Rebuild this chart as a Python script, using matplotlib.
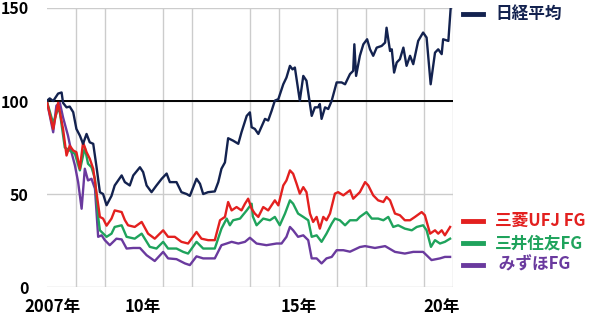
import matplotlib
matplotlib.use("Agg")
import matplotlib.pyplot as plt
from matplotlib.lines import Line2D

plt.rcParams['font.family'] = ['Noto Sans CJK JP', 'DejaVu Sans']

# 日経平均 (2007年初=100)
nikkei_t = [2007.00, 2007.10, 2007.22, 2007.39, 2007.51, 2007.56, 2007.68, 2007.79, 2007.91,
            2008.02, 2008.14, 2008.25, 2008.37, 2008.48, 2008.60, 2008.71, 2008.83, 2008.94,
            2009.06, 2009.23, 2009.34, 2009.58, 2009.69, 2009.86, 2009.98, 2010.21, 2010.32,
            2010.44, 2010.61, 2010.78, 2010.96, 2011.13, 2011.24, 2011.47, 2011.64, 2011.82,
            2011.93, 2012.16, 2012.28, 2012.39, 2012.56, 2012.79, 2012.91, 2013.02, 2013.14,
            2013.25, 2013.42, 2013.60, 2013.71, 2013.89, 2014.00, 2014.06, 2014.17, 2014.29,
            2014.52, 2014.63, 2014.75, 2014.86, 2014.98, 2015.15, 2015.26, 2015.38, 2015.47,
            2015.55, 2015.72, 2015.84, 2015.95, 2016.13, 2016.24, 2016.35, 2016.41, 2016.47,
            2016.59, 2016.70, 2016.82, 2016.99, 2017.16, 2017.28, 2017.45, 2017.56, 2017.60,
            2017.66, 2017.79, 2017.91, 2018.04, 2018.14, 2018.25, 2018.37, 2018.54, 2018.66,
            2018.71, 2018.83, 2018.89, 2018.97, 2019.06, 2019.17, 2019.29, 2019.40, 2019.52,
            2019.63, 2019.80, 2019.97, 2020.09, 2020.23, 2020.38, 2020.49, 2020.61, 2020.66,
            2020.84, 2020.92]
nikkei = [100, 101.4, 100, 104, 104.6, 99, 96.6, 97, 94,
          85, 81.4, 77, 82.3, 77.8, 77, 65, 51, 50,
          44, 49, 54.6, 60, 56.4, 54.6, 60, 64.4, 61.8,
          54.6, 51, 54.6, 58.2, 61, 56.4, 56.4, 51, 50,
          49, 58.2, 55.5, 50, 51, 51.4, 56.4, 63.6, 67,
          80, 78.7, 77, 83.2, 92, 93.9, 85.9, 85, 82.3,
          90.4, 89.5, 94.8, 100.2, 101, 109, 112.6, 118.9, 117,
          118, 100.2, 113.5, 110.9, 92, 96.6, 96.6, 98.4, 90.4,
          96.6, 95.7, 100.2, 110, 110, 109, 114.5, 116.2, 130.5,
          113.5, 124.3, 130.5, 133.2, 127.8, 124.3, 128.7, 129.6, 131.4,
          139.4, 126.9, 127.8, 115.3, 120.7, 122.5, 128.7, 118.9, 124.3,
          119.8, 132.3, 136.8, 134.1, 109, 126, 127.8, 125.2, 133.2,
          132.3, 150]

# 三菱UFJ FG
mufg_t = [2007.00, 2007.22, 2007.39, 2007.56, 2007.68, 2007.79, 2007.91, 2008.02, 2008.14,
          2008.25, 2008.37, 2008.48, 2008.60, 2008.71, 2008.83, 2008.94, 2009.06, 2009.23,
          2009.34, 2009.58, 2009.69, 2009.80, 2010.03, 2010.27, 2010.49, 2010.72, 2011.01,
          2011.18, 2011.41, 2011.64, 2011.87, 2012.16, 2012.33, 2012.56, 2012.79, 2012.97,
          2013.14, 2013.25, 2013.37, 2013.54, 2013.71, 2013.83, 2013.94, 2014.06, 2014.17,
          2014.29, 2014.46, 2014.63, 2014.86, 2014.98, 2015.15, 2015.26, 2015.38, 2015.49,
          2015.61, 2015.72, 2015.84, 2015.95, 2016.07, 2016.18, 2016.30, 2016.41, 2016.53,
          2016.64, 2016.76, 2016.93, 2017.04, 2017.22, 2017.45, 2017.56, 2017.79, 2017.97,
          2018.08, 2018.25, 2018.42, 2018.60, 2018.71, 2018.83, 2019.00, 2019.17, 2019.34,
          2019.52, 2019.69, 2019.92, 2020.03, 2020.21, 2020.38, 2020.49, 2020.61, 2020.72,
          2020.90]
mufg = [100, 85, 99, 85, 70.7, 76, 73.4, 72.5, 63.6,
        77.8, 72.5, 69, 63.6, 51, 37.7, 36.8, 33, 36.8,
        41.2, 40.3, 36, 33.2, 32.3, 35, 28.7, 26, 30.5,
        27, 27, 24.3, 23.4, 29.6, 26, 25.2, 25.2, 35.9,
        37.7, 45.7, 41.2, 43, 41.2, 44.8, 47.5, 42.1, 39.5,
        37.7, 43, 41.2, 46.6, 43.9, 54.6, 57.3, 62.7, 60.9,
        55.5, 50.2, 53.7, 51, 39.5, 35, 37.7, 31.4, 37.7,
        35.9, 39.5, 50.2, 51, 49.3, 52, 47.5, 51, 56.4,
        54.6, 49.3, 46.6, 45.7, 48.4, 46.6, 39.5, 38.6, 35.9,
        35.9, 37.7, 40.3, 38.6, 28.7, 30.5, 28.7, 30.5, 27.8,
        32.3]

# 三井住友FG
smfg_t = [2007.00, 2007.22, 2007.39, 2007.45, 2007.62, 2007.79, 2007.97, 2008.14, 2008.31,
          2008.42, 2008.54, 2008.66, 2008.77, 2008.83, 2009.06, 2009.23, 2009.34, 2009.58,
          2009.75, 2010.03, 2010.27, 2010.55, 2010.78, 2011.01, 2011.18, 2011.47, 2011.70,
          2011.87, 2012.16, 2012.39, 2012.79, 2013.02, 2013.20, 2013.31, 2013.42, 2013.66,
          2013.89, 2014.06, 2014.10, 2014.23, 2014.46, 2014.69, 2014.86, 2015.03, 2015.21,
          2015.38, 2015.49, 2015.66, 2015.84, 2016.01, 2016.13, 2016.30, 2016.47, 2016.64,
          2016.82, 2016.93, 2017.10, 2017.28, 2017.45, 2017.68, 2017.79, 2018.02, 2018.20,
          2018.42, 2018.60, 2018.77, 2018.94, 2019.11, 2019.34, 2019.58, 2019.75, 2019.97,
          2020.09, 2020.24, 2020.38, 2020.55, 2020.72, 2020.90]
smfg = [100, 88, 96, 94, 75, 73.4, 71.6, 62.7, 75,
        66.3, 64.4, 58.2, 37.7, 30.5, 27, 28.7, 32.3, 33.2,
        27, 26, 28.7, 21.6, 20.7, 24.3, 20.7, 20.7, 18.9,
        18, 24.3, 20.7, 20.7, 31.4, 36.8, 33.2, 35.9, 36.8,
        41.2, 44.8, 38, 33.2, 36.8, 35.9, 37.7, 33.2, 39.5,
        46.6, 44.8, 39.5, 37.7, 35.9, 27, 27.8, 24.3, 28.7,
        34.1, 36.8, 35.9, 33.2, 35.9, 35.9, 37.7, 40.3, 36.8,
        36.8, 35.9, 37.7, 32.3, 33.2, 31.4, 30.5, 32.3, 33.2,
        30.5, 21.6, 25.2, 23.4, 24.3, 26]

# みずほFG
mizuho_t = [2007.00, 2007.22, 2007.33, 2007.45, 2007.56, 2007.73, 2007.85, 2007.97, 2008.08,
            2008.20, 2008.31, 2008.42, 2008.54, 2008.66, 2008.77, 2008.89, 2009.00, 2009.17,
            2009.40, 2009.58, 2009.75, 2009.98, 2010.21, 2010.44, 2010.72, 2011.01, 2011.18,
            2011.47, 2011.76, 2011.93, 2012.16, 2012.39, 2012.79, 2013.02, 2013.20, 2013.37,
            2013.60, 2013.83, 2014.00, 2014.23, 2014.57, 2014.92, 2015.09, 2015.26, 2015.38,
            2015.49, 2015.66, 2015.84, 2016.01, 2016.13, 2016.30, 2016.47, 2016.64, 2016.82,
            2016.99, 2017.22, 2017.45, 2017.79, 2017.97, 2018.31, 2018.66, 2019.00, 2019.34,
            2019.63, 2019.97, 2020.26, 2020.55, 2020.72, 2020.90]
mizuho = [100, 83.2, 97.5, 99, 91.2, 81.4, 72.5, 65.3, 56.4,
          42.1, 63.6, 57.3, 58.2, 52.9, 27, 27.8, 25.2, 22.5,
          26, 25.6, 20.7, 21, 21, 17.1, 14, 18.9, 15.4,
          15, 12.7, 11.8, 16.5, 15.4, 15.4, 22.5, 23.4, 24.3,
          23.4, 24.3, 26.5, 23.4, 22.5, 23.4, 23.4, 27, 32.3,
          30.5, 27, 27.8, 25.2, 15.4, 15.4, 12.7, 15.4, 16.2,
          19.8, 19.8, 19, 21.5, 22, 21, 22, 18.9, 18,
          18.9, 18.9, 14.5, 15.4, 16.2, 16.2]

grid_years = [2008, 2009, 2011, 2012, 2014, 2015, 2017, 2018, 2020, 2021]
label_pos = [2007.2, 2010.3, 2015.7, 2020.6]
label_txt = ['2007年', '10年', '15年', '20年']
y_ticks = [0, 50, 100, 150]

C_NIKKEI = '#13224f'
C_MUFG = '#e3201f'
C_SMFG = '#1fa35c'
C_MIZUHO = '#6a3a9e'

fig = plt.figure(figsize=(6, 3.2), dpi=100)
ax = fig.add_axes([0.078, 0.103, 0.677, 0.872])

ax.plot(mizuho_t, mizuho, color=C_MIZUHO, lw=1.7, zorder=3)
ax.plot(smfg_t, smfg, color=C_SMFG, lw=1.7, zorder=4)
ax.plot(mufg_t, mufg, color=C_MUFG, lw=1.7, zorder=5)
ax.plot(nikkei_t, nikkei, color=C_NIKKEI, lw=1.7, zorder=6)
ax.axhline(100, color='black', lw=1.4, zorder=2)

ax.set_xlim(2007, 2021)
ax.set_ylim(0, 150)
ax.set_xticks(grid_years)
ax.set_xticklabels([])
ax.set_xticks(label_pos, minor=True)
ax.set_xticklabels(label_txt, minor=True, fontsize=12, fontweight='bold')
ax.set_yticks(y_ticks)
ax.set_yticklabels([str(v) for v in y_ticks], fontsize=11.5, fontweight='bold')
ax.tick_params(axis='both', which='both', length=0)
ax.tick_params(axis='y', pad=13)
ax.tick_params(axis='x', which='minor', pad=8)
ax.grid(True, color='#cccccc', lw=1.0, zorder=1)
ax.set_axisbelow(True)
for s in ax.spines.values():
    s.set_visible(False)

# 凡例
legend_items = [('日経平均', C_NIKKEI, 0.955),
                ('三菱UFJ FG', C_MUFG, 0.31),
                ('三井住友FG', C_SMFG, 0.24),
                (' みずほFG', C_MIZUHO, 0.172)]
for name, col, yy in legend_items:
    fig.add_artist(Line2D([0.772, 0.805], [yy, yy], color=col, lw=3.5))
    fig.text(0.825, yy, name, color=col, fontsize=12, fontweight='bold', va='center', ha='left')

fig.savefig('out.png', dpi=100, facecolor='white')
